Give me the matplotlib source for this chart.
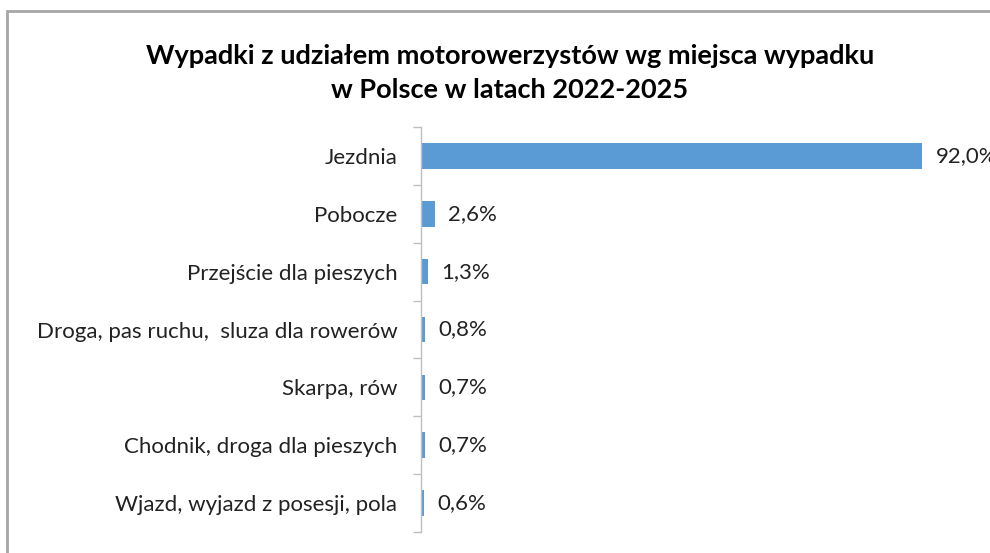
import matplotlib
matplotlib.use("Agg")
import matplotlib.pyplot as plt
from matplotlib.patches import Rectangle
import numpy as np

categories = ["Jezdnia", "Pobocze", "Przejście dla pieszych",
              "Droga, pas ruchu,  sluza dla rowerów", "Skarpa, rów",
              "Chodnik, droga dla pieszych", "Wjazd, wyjazd z posesji, pola"]
values = [92.0, 2.6, 1.3, 0.8, 0.7, 0.7, 0.6]
labels = ["92,0%", "2,6%", "1,3%", "0,8%", "0,7%", "0,7%", "0,6%"]
title = "Wypadki z udziałem motorowerzystów wg miejsca wypadku\nw Polsce w latach 2022-2025"

plt.rcParams['font.family'] = ['Lato', 'DejaVu Sans']

W, H = 990, 553
fig = plt.figure(figsize=(W/100, H/100), dpi=100)

# outer border (cropped chart area)
fig.patches.append(Rectangle((7/W, -0.1), 2.0, (H-11)/H + 0.1, transform=fig.transFigure,
                             fill=False, edgecolor="#A6A6A6", linewidth=2.0))

ax = fig.add_axes([421/W, 1-532/H, 545/W, (532-127)/H])
y = np.arange(len(categories))
ax.barh(y, values, height=0.44, color="#5B9BD5", left=0)
ax.set_xlim(0, 100)
ax.set_ylim(len(categories)-0.5, -0.5)

for s in ["top", "right", "bottom"]:
    ax.spines[s].set_visible(False)
ax.spines["left"].set_color("#BFBFBF")
ax.spines["left"].set_linewidth(1.0)
ax.set_xticks([])
ax.set_yticks(y)
ax.set_yticklabels(categories, fontsize=16, color="#222222")
ax.tick_params(axis="y", length=0, pad=17)
ax.set_yticks(np.arange(-0.5, len(categories)), minor=True)
ax.tick_params(axis="y", which="minor", length=5.5, color="#BFBFBF", width=1.0)

for yi, v, lab in zip(y, values, labels):
    ax.text(v + 2.4, yi, lab, va="center", ha="left", fontsize=16, color="#222222", clip_on=False)

fig.text(510/W, 1-73/H, title, ha="center", va="center", fontsize=19.5,
         fontweight="bold", linespacing=1.5, color="#000000")

fig.savefig("out.png", dpi=100)
